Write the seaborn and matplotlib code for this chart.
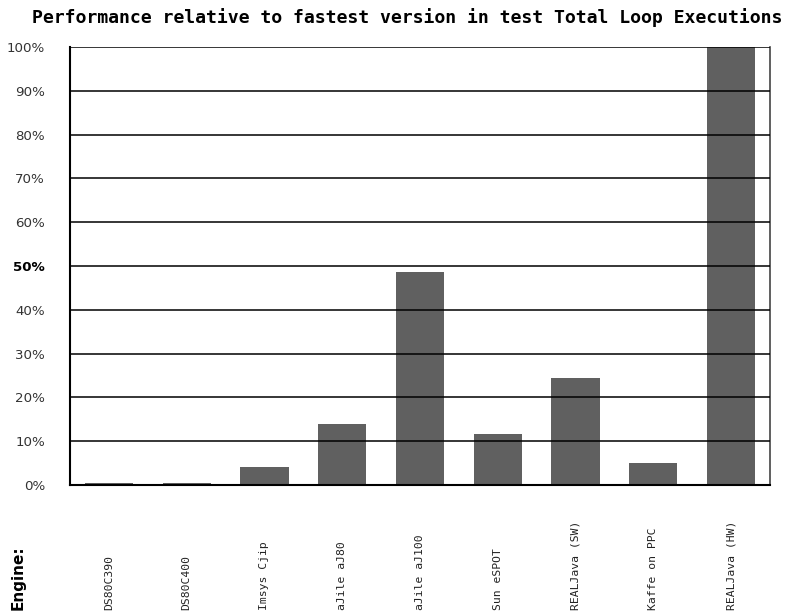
import matplotlib
matplotlib.use("Agg")
import matplotlib.pyplot as plt
import matplotlib.transforms as mtransforms
import seaborn as sns
import pandas as pd

engines = ["DS80C390", "DS80C400", "Imsys Cjip", "aJile aJ80", "aJile aJ100",
           "Sun eSPOT", "REALJava (SW)", "Kaffe on PPC", "REALJava (HW)"]
performance = [0.5, 0.5, 4.1, 14.0, 48.7, 11.7, 24.5, 5.0, 100.0]
y_ticks = [0, 10, 20, 30, 40, 50, 60, 70, 80, 90, 100]
y_tick_labels = [f"{v}%" for v in y_ticks]

df = pd.DataFrame({"engine": engines, "perf": performance})

sns.set_theme(style="white")
plt.rcParams["font.family"] = ["DejaVu Sans Mono", "DejaVu Sans"]

fig = plt.figure(figsize=(7.87, 6.16), dpi=100)
ax = fig.add_axes([70 / 787, 1 - 485 / 616, 700 / 787, 438 / 616])

sns.barplot(data=df, x="engine", y="perf", color="#606060", saturation=1,
            width=0.62, ax=ax, zorder=2)
for p in ax.patches:
    p.set_edgecolor("none")

ax.set_ylim(0, 100)
ax.set_xlim(-0.5, len(engines) - 0.5)
ax.set_yticks(y_ticks)
ax.set_yticklabels(y_tick_labels, fontsize=9.6, family="DejaVu Sans",
                   color="#333333")
for lbl in ax.get_yticklabels():
    if lbl.get_text() == "50%":
        lbl.set_fontweight("bold")
        lbl.set_color("black")
ax.tick_params(axis="y", length=0, pad=18)
ax.tick_params(axis="x", length=0)
ax.set_xticks(range(len(engines)))
ax.set_xticklabels([])
ax.set_xlabel("")
ax.set_ylabel("")

# horizontal grid lines drawn over the bars
for v in y_ticks[1:]:
    ax.axhline(v, color="black", lw=1.1, zorder=3)

for side in ["left", "bottom"]:
    ax.spines[side].set_color("black")
    ax.spines[side].set_linewidth(1.5)
ax.spines["right"].set_color("#444444")
ax.spines["right"].set_linewidth(1.2)
ax.spines["top"].set_visible(False)

# engine names, rotated and aligned to the bottom edge
trans = mtransforms.blended_transform_factory(ax.transData, fig.transFigure)
for i, name in enumerate(engines):
    ax.text(i, 6 / 616, name, rotation=90, ha="center", va="bottom",
            fontsize=8.2, color="#222222", transform=trans)
fig.text(18 / 787, 6 / 616, "Engine:", rotation=90, ha="center", va="bottom",
         fontsize=11, fontweight="bold", color="black", family="DejaVu Sans")

fig.text(407 / 787, 1 - 18 / 616,
         "Performance relative to fastest version in test Total Loop Executions",
         ha="center", va="center", fontsize=13.1, fontweight="bold",
         color="black")

fig.savefig("out.png", dpi=100)
